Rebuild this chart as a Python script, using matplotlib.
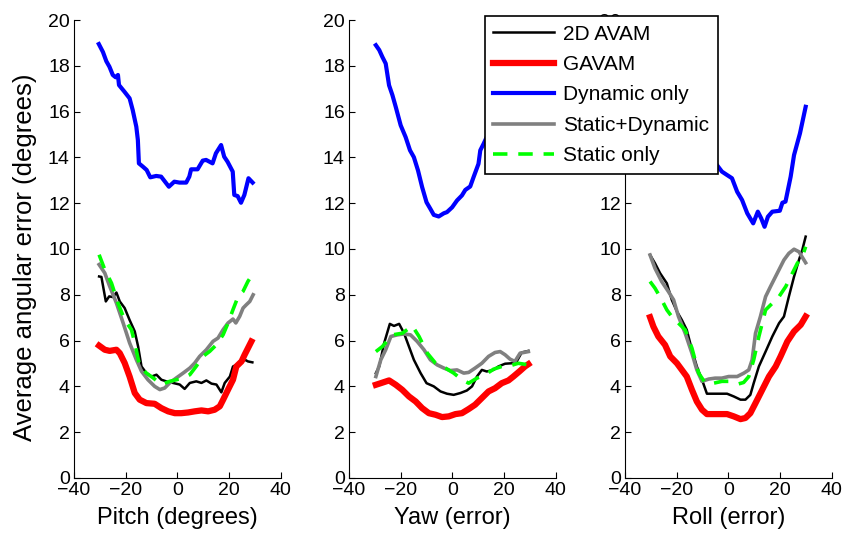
import numpy as np
import matplotlib.pyplot as plt

plt.rcParams['font.family'] = ['Liberation Sans', 'DejaVu Sans']

# ---- Pitch panel ----
pitch_blue_x = [-30.4, -28.8, -27.5, -26.3, -25, -23.9, -23, -22.6, -20.5, -18.5, -17.3, -15.9, -15.3, -14.9,
                -13.4, -11.9, -10.5, -8.2, -6.3, -3.3, -1.2, 0.8, 3.4, 4.6, 5.3, 7.8, 9.8, 11.1, 13.6, 14.9,
                16.9, 18.1, 19.4, 21.4, 22, 23.3, 24.6, 25.9, 27.5, 29.1]
pitch_blue_y = [18.95, 18.6, 18.2, 17.96, 17.6, 17.5, 17.6, 17.16, 16.87, 16.58, 16.07, 15.34, 14.76, 13.74,
                13.6, 13.45, 13.13, 13.19, 13.16, 12.72, 12.94, 12.9, 12.9, 13.16, 13.48, 13.48, 13.86, 13.89,
                13.74, 14.18, 14.54, 14.03, 13.81, 13.38, 12.36, 12.31, 12.02, 12.36, 13.09, 12.9]
pitch_red_x = [-30.3, -28.1, -26.2, -23.6, -22.3, -20.4, -18.5, -16.5, -14.6, -12, -8.8, -6.2, -3.6, -1, 1.5,
               4.1, 6.7, 9.3, 11.9, 14.4, 16.4, 17.7, 19.6, 21.5, 22.8, 24.8, 26, 27.3, 28.6]
pitch_red_y = [5.78, 5.6, 5.55, 5.6, 5.45, 5.02, 4.43, 3.71, 3.42, 3.27, 3.24, 3.05, 2.91, 2.83, 2.83,
               2.86, 2.91, 2.95, 2.91, 2.98, 3.13, 3.42, 3.86, 4.29, 4.87, 5.09, 5.38, 5.67, 5.96]
pitch_black_x = [-30.3, -29.4, -27.7, -26.4, -24.9, -23.6, -22.3, -20.4, -18.5, -16.5, -15.2, -13.9, -12, -10,
                 -8.1, -6.2, -4.3, -1.7, 0.9, 2.8, 4.8, 7.3, 9.3, 11.2, 13.2, 15.1, 17, 18.3, 20.3, 21.5,
                 22.8, 24.8, 26, 27.3, 29]
pitch_black_y = [8.8, 8.78, 7.71, 7.93, 7.9, 8.1, 7.71, 7.42, 6.9, 6.4, 5.74, 4.87, 4.58, 4.43,
                 4.51, 4.29, 4.22, 4.15, 4.08, 3.89, 4.15, 4.22, 4.15, 4.26, 4.12, 4.08, 3.74, 4.15, 4.43, 4.87,
                 4.94, 5.02, 5.17, 5.09, 5.05]
pitch_grey_x = [-30.3, -28.1, -26.2, -23.6, -21, -18.5, -15.9, -13.9, -11.4, -8.8, -6.8, -4.9, -3, -0.4, 2.2,
                4.8, 6.7, 8.6, 11.2, 13.8, 15.7, 17.7, 19.6, 21.5, 22.6, 24.1, 25.4, 26.7, 28, 29.3]
pitch_grey_y = [9.32, 8.95, 8.37, 7.64, 6.77, 5.9, 5.17, 4.66, 4.29, 4.0, 3.86, 3.93, 4.15, 4.37, 4.58,
                4.8, 5.02, 5.31, 5.6, 5.97, 6.11, 6.48, 6.77, 6.94, 6.77, 7.06, 7.42, 7.57, 7.71, 8.0]
pitch_green_x = [-30.3, -28.1, -25.5, -23, -20.4, -17.8, -16.5, -14.6, -12, -9.4, -6.2, -3, -0.4, 2.2, 4.8,
                 7.3, 9.9, 12.5, 15.1, 17.7, 19.6, 21.5, 23.5, 25.4, 27.3, 29]
pitch_green_y = [9.75, 9.1, 8.51, 7.64, 6.9, 6.48, 5.9, 4.88, 4.58, 4.37, 4.08, 4.22, 4.29, 4.37, 4.51,
                 4.88, 5.31, 5.53, 5.82, 6.26, 6.77, 7.35, 7.93, 8.15, 8.59, 8.88]

# ---- Yaw panel ----
yaw_blue_x = [-29.6, -28.3, -27.1, -25.8, -24.5, -23.2, -21.9, -20, -18.1, -16.4, -14.9, -13.3, -11.7, -10,
              -8.5, -7.2, -5.3, -3.3, -2.1, -0.1, 1.8, 3.7, 5, 6.9, 8.2, 10.1, 10.8, 12.1, 15, 18, 21, 24,
              27, 30]
yaw_blue_y = [18.9, 18.69, 18.39, 18.1, 17.15, 16.72, 16.2, 15.4, 14.89, 14.31, 14.01, 13.43, 12.7, 12.04,
              11.75, 11.49, 11.42, 11.56, 11.61, 11.82, 12.12, 12.34, 12.58, 12.73, 13.14, 13.72, 14.31, 14.6,
              15.3, 15.9, 16.5, 17.0, 17.6, 18.2]
yaw_red_x = [-29.6, -27.7, -24.5, -21.9, -19.4, -16.8, -14.2, -11.7, -9.1, -6.5, -4, -1.4, 1.2, 3.7, 6.3,
             8.8, 11.4, 14, 16.5, 19.1, 21.7, 23.6, 25.9, 28.1, 29.4]
yaw_red_y = [4.07, 4.14, 4.26, 4.07, 3.85, 3.56, 3.34, 3.05, 2.83, 2.76, 2.66, 2.69, 2.79, 2.83, 3.01,
             3.2, 3.49, 3.78, 3.92, 4.14, 4.26, 4.43, 4.65, 4.87, 4.97]
yaw_black_x = [-29.6, -28.3, -26.4, -24.2, -22.6, -20.6, -18.7, -16.8, -14.9, -12.3, -10, -7.2, -4.6, -2.1,
               0.5, 3.1, 5.6, 7.6, 9.5, 11.4, 13.3, 15.9, 17.8, 20.4, 23, 24.9, 26.8, 29.4]
yaw_black_y = [4.58, 4.87, 5.89, 6.73, 6.64, 6.73, 6.32, 5.74, 5.16, 4.58, 4.14, 4.0, 3.78, 3.68,
               3.63, 3.71, 3.82, 4.0, 4.43, 4.72, 4.65, 4.72, 4.87, 4.99, 5.01, 5.09, 5.48, 5.55]
yaw_grey_x = [-29.6, -27.7, -25.8, -23.8, -21.3, -18.7, -16.2, -13.6, -11, -8.5, -5.9, -3.3, -0.8, 1.8, 4.4,
              6.3, 8.8, 11.4, 14, 16.5, 18.5, 20.4, 22.3, 24.2, 26.2, 29.4]
yaw_grey_y = [4.43, 5.16, 5.6, 6.18, 6.25, 6.29, 6.25, 5.96, 5.6, 5.16, 4.94, 4.8, 4.69, 4.72, 4.58,
              4.61, 4.8, 5.01, 5.31, 5.48, 5.52, 5.38, 5.19, 5.09, 5.45, 5.52]
yaw_green_x = [-29.6, -27.1, -23.2, -19.4, -15.5, -12.9, -9.7, -6.5, -2.7, 0.5, 3.7, 6.3, 9.5, 12.7, 15.9,
               19.1, 22.3, 25.5, 29.4]
yaw_green_y = [5.52, 5.74, 6.25, 6.32, 6.64, 6.18, 5.45, 5.01, 4.8, 4.58, 4.29, 4.14, 4.36, 4.51, 4.75,
               4.87, 4.9, 5.01, 4.94]

# ---- Roll panel ----
roll_blue_x = [-30, -26, -22, -18, -14, -10, -6, -2.5, -0.5, 1.4, 3.4, 5.3, 7.3, 9.6, 11.4, 12.7, 14, 15.3,
               17, 19.9, 20.9, 22.1, 24.1, 25.4, 27.7, 29.9]
roll_blue_y = [19.0, 18.2, 17.3, 16.4, 15.4, 14.6, 13.9, 13.38, 13.23, 13.09, 12.5, 12.14, 11.56, 11.12, 11.63,
               11.34, 10.97, 11.41, 11.63, 11.67, 12.02, 12.07, 13.16, 14.1, 15.05, 16.21]
roll_red_x = [-30.3, -29, -27.1, -24.5, -22.5, -19.9, -18, -16.1, -14.1, -12.2, -10.2, -8.3, -5.7, -3.1,
              -0.5, 2.1, 4.7, 6.6, 8.5, 10.5, 13.1, 15.7, 18.3, 20.2, 22.8, 25.4, 28, 29.9]
roll_red_y = [7.02, 6.61, 6.18, 5.81, 5.31, 5.01, 4.72, 4.43, 3.85, 3.34, 2.98, 2.79, 2.79, 2.79,
              2.79, 2.69, 2.57, 2.62, 2.83, 3.27, 3.85, 4.43, 4.87, 5.31, 5.96, 6.4, 6.69, 7.05]
roll_black_x = [-30.3, -28.4, -26.4, -23.8, -21.9, -19.9, -18, -16.1, -14.1, -12.2, -10.2, -8.3, -5.7, -3.1,
                -0.5, 2.1, 4.7, 6.6, 8.5, 9.8, 11.8, 14.4, 17, 19.6, 21.5, 23.4, 25.4, 27.3, 28.6, 29.9]
roll_black_y = [9.74, 9.38, 8.94, 8.5, 7.78, 7.27, 6.9, 6.47, 5.6, 4.87, 4.29, 3.68, 3.68, 3.68,
                3.68, 3.56, 3.42, 3.42, 3.63, 4.14, 4.87, 5.52, 6.18, 6.76, 7.05, 7.92, 8.79, 9.52, 9.96, 10.54]
roll_grey_x = [-30.3, -28.4, -25.8, -23.2, -21.2, -19.3, -16.7, -14.1, -12.2, -10.2, -7.6, -5.1, -2.5, 0.1,
               3.4, 6, 7.9, 9.2, 10.5, 12.4, 14.4, 16.3, 18.9, 21.5, 23.4, 25.4, 27.3, 29.9]
roll_grey_y = [9.74, 9.16, 8.58, 8.14, 7.78, 7.05, 6.32, 5.45, 4.72, 4.22, 4.32, 4.36, 4.36, 4.43,
               4.43, 4.58, 4.72, 5.16, 6.32, 7.05, 7.92, 8.36, 8.94, 9.52, 9.81, 9.99, 9.88, 9.4]
roll_green_x = [-30.3, -28.4, -25.8, -23.8, -21.9, -19.3, -16.7, -14.1, -11.5, -8.9, -5.7, -2.5, 0.8, 4,
                5.9, 7.9, 9.8, 11.8, 14.4, 17, 19.6, 22.2, 24.1, 26.7, 28.6, 29.9]
roll_green_y = [8.58, 8.29, 7.78, 7.34, 7.05, 6.76, 6.47, 5.67, 4.58, 4.14, 4.14, 4.22, 4.22, 4.11,
                4.17, 4.43, 5.16, 6.18, 7.34, 7.63, 7.92, 8.36, 8.79, 9.38, 9.67, 10.1]

labels = ['2D AVAM', 'GAVAM', 'Dynamic only', 'Static+Dynamic', 'Static only']
xlabels = ['Pitch (degrees)', 'Yaw (error)', 'Roll (error)']

panels = [
    [(pitch_black_x, pitch_black_y), (pitch_red_x, pitch_red_y), (pitch_blue_x, pitch_blue_y),
     (pitch_grey_x, pitch_grey_y), (pitch_green_x, pitch_green_y)],
    [(yaw_black_x, yaw_black_y), (yaw_red_x, yaw_red_y), (yaw_blue_x, yaw_blue_y),
     (yaw_grey_x, yaw_grey_y), (yaw_green_x, yaw_green_y)],
    [(roll_black_x, roll_black_y), (roll_red_x, roll_red_y), (roll_blue_x, roll_blue_y),
     (roll_grey_x, roll_grey_y), (roll_green_x, roll_green_y)],
]

styles = [
    dict(color='black', lw=1.8),
    dict(color='#ff0000', lw=4.5),
    dict(color='#0000ff', lw=3.0),
    dict(color='#808080', lw=2.6),
    dict(color='#00ff00', lw=2.6, ls=(0, (4, 3))),
]

fig = plt.figure(figsize=(8.44, 5.41), dpi=100)
lefts = [0.0877, 0.4135, 0.7405]
handles = []
for i, (left, series) in enumerate(zip(lefts, panels)):
    ax = fig.add_axes([left, 0.1165, 0.245, 0.8465])
    for (xs, ys), st in zip(series, styles):
        h, = ax.plot(xs, ys, **st)
        if i == 0:
            handles.append(h)
    ax.set_xlim(-40, 40)
    ax.set_ylim(0, 20)
    ax.set_xticks([-40, -20, 0, 20, 40])
    ax.set_yticks(np.arange(0, 21, 2))
    ax.spines['top'].set_visible(False)
    ax.spines['right'].set_visible(False)
    ax.tick_params(direction='in', length=4, labelsize=14, pad=3)
    ax.set_xlabel(xlabels[i], fontsize=17, labelpad=6)
    if i == 0:
        ax.set_ylabel('Average angular error (degrees)', fontsize=18.5)
        ax.yaxis.set_label_coords(-0.179, 0.4825)

leg = fig.legend(handles, labels, loc='upper left', bbox_to_anchor=(0.5747, 0.970),
                 borderaxespad=0, fontsize=15, frameon=True, fancybox=False,
                 edgecolor='black', framealpha=1, handlelength=2.9, handletextpad=0.45,
                 labelspacing=0.55, borderpad=0.4)
leg.get_frame().set_linewidth(1.2)

fig.savefig('out.png', dpi=100)
